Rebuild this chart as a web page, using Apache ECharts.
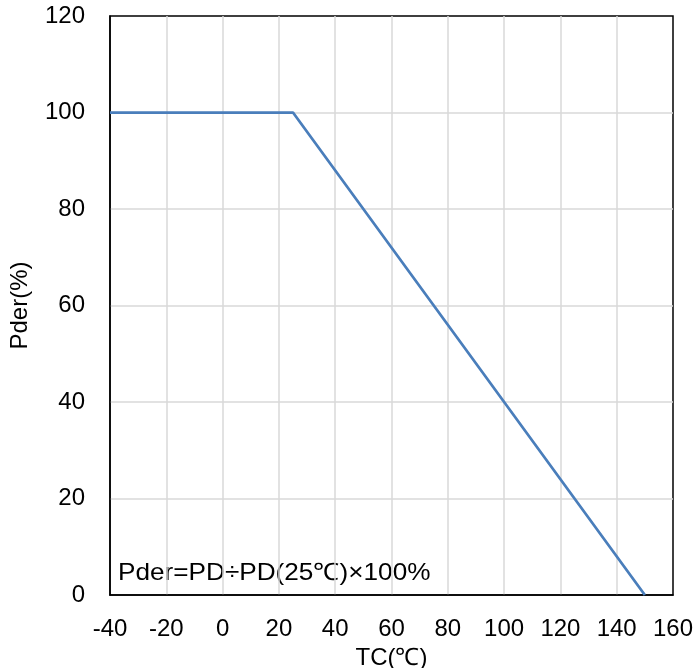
<!DOCTYPE html>
<html>
<head>
<meta charset="utf-8">
<script src="https://cdn.jsdelivr.net/npm/echarts@6/dist/echarts.min.js"></script>
<style>
html,body{margin:0;padding:0;background:#fff;}
#chart{width:697px;height:668px;}
</style>
</head>
<body>
<div id="chart"></div>
<script>
const tempC = [-40, 25, 150];
const pderPct = [100, 100, 0];
const xTicks = [-40, -20, 0, 20, 40, 60, 80, 100, 120, 140, 160];
const yTicks = [0, 20, 40, 60, 80, 100, 120];
const xName = 'TC(℃)';
const yName = 'Pder(%)';
const formulaText = 'Pder=PD÷PD(25℃)×100%';

const font = 'Arial, "Liberation Sans", sans-serif';
const fs = 24;
const chart = echarts.init(document.getElementById('chart'));
chart.setOption({
  animation: false,
  backgroundColor: '#fff',
  grid: {left: 110, right: 24, top: 16, bottom: 73, show: true, borderColor: '#000', borderWidth: 1.5, containLabel: false, outerBoundsMode: 'none'},
  xAxis: [{
    type: 'value', min: xTicks[0], max: xTicks[xTicks.length-1], interval: 20,
    name: xName, nameLocation: 'middle', nameGap: 37,
    nameTextStyle: {fontFamily: font, fontSize: fs, color: '#000'},
    axisLine: {show: true, onZero: false, lineStyle: {color: '#000', width: 1.5}},
    axisTick: {show: false},
    axisLabel: {fontFamily: font, fontSize: fs, color: '#000', margin: 22},
    splitLine: {show: true, showMinLine: false, showMaxLine: false, lineStyle: {color: '#d9d9d9', width: 1.5}}
  }],
  yAxis: [{
    type: 'value', min: yTicks[0], max: yTicks[yTicks.length-1], interval: 20,
    name: yName, nameLocation: 'middle', nameGap: 78, nameRotate: 90,
    nameTextStyle: {fontFamily: font, fontSize: fs, color: '#000'},
    axisLine: {show: true, onZero: false, lineStyle: {color: '#000', width: 1.5}},
    axisTick: {show: false},
    axisLabel: {fontFamily: font, fontSize: fs, color: '#000', margin: 25},
    splitLine: {show: true, showMinLine: false, showMaxLine: false, lineStyle: {color: '#d9d9d9', width: 1.5}}
  }],
  graphic: [{
    type: 'text', left: 118, top: 561, scaleX: 1.09, originX: 118,
    style: {text: formulaText, fontFamily: font, fontSize: fs, fill: '#000'}
  }],
  series: [{
    type: 'line',
    data: tempC.map((t, i) => [t, pderPct[i]]),
    symbol: 'none',
    lineStyle: {color: '#4a7ebb', width: 2.75},
    z: 3
  }]
});
</script>
</body>
</html>
